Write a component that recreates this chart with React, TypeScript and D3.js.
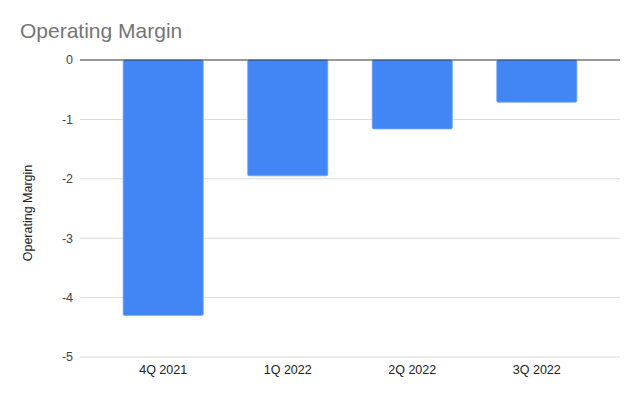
import React from "react";
import * as d3 from "d3";

const categories = ["4Q 2021", "1Q 2022", "2Q 2022", "3Q 2022"];
const values = [-4.3, -1.95, -1.16, -0.71];
const yTicks = [0, -1, -2, -3, -4, -5];
const title = "Operating Margin";
const yAxisTitle = "Operating Margin";

const W = 640;
const H = 396;

export default function App() {
  const y = d3.scaleLinear().domain([0, -5]).range([60, 357]);
  const x = d3
    .scaleBand<string>()
    .domain(categories)
    .range([101, 599])
    .paddingInner(0.357)
    .paddingOuter(0.178);
  const font = "'Liberation Sans', Arial, sans-serif";
  return (
    <svg
      width={W}
      height={H}
      style={{ position: "absolute", left: 0, top: 0, background: "#fff" }}
    >
      <text x={20} y={37.5} fontFamily={font} fontSize={21} fill="#757575">
        {title}
      </text>
      {yTicks.map((t) =>
        t === 0 ? null : (
          <line
            key={"g" + t}
            x1={80}
            x2={620}
            y1={y(t)}
            y2={y(t)}
            stroke="#dadada"
            strokeWidth={1}
          />
        )
      )}
      {yTicks.map((t) => (
        <text
          key={"t" + t}
          x={73}
          y={y(t)}
          dy="0.35em"
          textAnchor="end"
          fontFamily={font}
          fontSize={12.5}
          fill="#444"
        >
          {String(t)}
        </text>
      ))}
      {categories.map((c, i) => {
        const v = values[i];
        const top = y(Math.max(0, v));
        const bot = y(Math.min(0, v));
        return (
          <rect
            key={c}
            x={x(c)}
            y={top}
            width={x.bandwidth()}
            height={bot - top}
            fill="#4285f4"
            stroke="#6fa3f7"
            strokeWidth={0.8}
            rx={1.5}
          />
        );
      })}
      <line x1={80} x2={620} y1={y(0)} y2={y(0)} stroke="#333" strokeWidth={1} />
      {categories.map((c) => (
        <text
          key={"x" + c}
          x={(x(c) as number) + x.bandwidth() / 2}
          y={373.5}
          textAnchor="middle"
          fontFamily={font}
          fontSize={12.5}
          fill="#222"
        >
          {c}
        </text>
      ))}
      <text
        transform={`translate(31.5, 213) rotate(-90)`}
        textAnchor="middle"
        fontFamily={font}
        fontSize={12.5}
        fill="#222"
      >
        {yAxisTitle}
      </text>
    </svg>
  );
}
